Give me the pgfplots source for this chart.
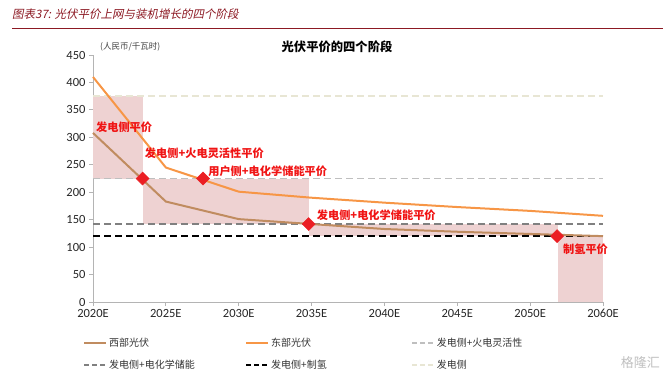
\documentclass[border=0pt]{standalone}
\usepackage{pgfplots}
\pgfplotsset{compat=1.18}
\usepackage{fontspec}
\setmainfont{Carlito}
\newfontfamily\cjk{Noto Sans CJK SC}
\newfontfamily\cjkit{Noto Sans CJK SC}[FakeSlant=0.2]
\definecolor{eastc}{RGB}{247,150,70}
\definecolor{westc}{RGB}{192,140,96}
\definecolor{shade}{RGB}{238,210,210}
\definecolor{lab}{RGB}{240,20,20}
\definecolor{dia}{RGB}{235,30,35}
\definecolor{g1}{RGB}{191,191,191}
\definecolor{g2}{RGB}{128,128,128}
\definecolor{g0}{RGB}{232,230,212}
\definecolor{hdr}{RGB}{140,25,35}
\definecolor{axc}{RGB}{180,180,180}
\begin{document}
\begin{tikzpicture}
\useasboundingbox (0pt,0pt) rectangle (663pt,-380pt);
\begin{axis}[
  at={(93pt,-302pt)}, anchor=south west,
  scale only axis, width=510pt, height=247pt,
  xmin=0, xmax=7, ymin=0, ymax=450,
  axis x line*=bottom, axis y line*=left,
  axis line style={draw=axc, line width=0.8pt, -},
  xtick={0,1,2,3,4,5,6,7},
  xticklabels={2020E,2025E,2030E,2035E,2040E,2045E,2050E,2060E},
  ytick={0,50,100,150,200,250,300,350,400,450},
  tick align=outside, major tick length=4pt,
  tick style={draw=axc, line width=0.8pt},
  tick label style={font=\fontsize{12.5}{14}\selectfont, text=black!85},
  /pgf/number format/assume math mode=true,
  clip=false,
  legend columns=3,
  legend cell align=left,
  legend style={at={(-0.0196,-0.1377)}, anchor=north west, draw=none, fill=none,
    font=\cjk\fontsize{10}{12}\selectfont, text=black!80, row sep=8pt, inner xsep=0pt, inner ysep=0pt},
  legend image code/.code={\draw[#1] (0pt,0pt) -- (22pt,0pt);},
]
% shaded stages
\addplot[fill=shade, draw=none, forget plot] coordinates {(0,225) (0.68,225) (0.68,375) (0,375)} -- cycle;
\addplot[fill=shade, draw=none, forget plot] coordinates {(0.68,142) (2.96,142) (2.96,225) (0.68,225)} -- cycle;
\addplot[fill=shade, draw=none, forget plot] coordinates {(2.96,120) (6.38,120) (6.38,142) (2.96,142)} -- cycle;
\addplot[fill=shade, draw=none, forget plot] coordinates {(6.38,0) (7,0) (7,120) (6.38,120)} -- cycle;
% horizontal thresholds
\addplot[g0, line width=1.6pt, dash pattern=on 7pt off 4pt, forget plot] coordinates {(0,375) (7,375)};
\addplot[g1, line width=1.6pt, dash pattern=on 7pt off 4pt, forget plot] coordinates {(0,225) (7,225)};
\addplot[g2, line width=1.6pt, dash pattern=on 7pt off 4pt, forget plot] coordinates {(0,142) (7,142)};
\addplot[black, line width=1.6pt, dash pattern=on 7pt off 4pt, forget plot] coordinates {(0,120) (7,120)};
% series
\addplot[westc, line width=2pt, forget plot] coordinates {(0,308) (1,183) (2,151) (3,142) (4,133) (5,128) (6,124) (7,120)};
\addplot[eastc, line width=2pt, forget plot] coordinates {(0,410) (1,245) (2,201) (3,190) (4,181) (5,173) (6,166) (7,157)};
% parity points
\addplot[only marks, mark=square*, mark size=4.6pt, mark options={rotate=45, fill=dia, draw=dia}, forget plot]
  coordinates {(0.68,225) (1.51,225) (2.96,142) (6.37,120)};
% labels
\node[anchor=west, text=lab, font=\cjk\bfseries\fontsize{11.2}{13}\selectfont, inner sep=0pt] at (axis cs:0.04,319) {发电侧平价};
\node[anchor=west, text=lab, font=\cjk\bfseries\fontsize{11.2}{13}\selectfont, inner sep=0pt] at (axis cs:0.71,271) {发电侧+火电灵活性平价};
\node[anchor=west, text=lab, font=\cjk\bfseries\fontsize{11.2}{13}\selectfont, inner sep=0pt] at (axis cs:1.58,238.6) {用户侧+电化学储能平价};
\node[anchor=west, text=lab, font=\cjk\bfseries\fontsize{11.2}{13}\selectfont, inner sep=0pt] at (axis cs:3.07,158.5) {发电侧+电化学储能平价};
\node[anchor=west, text=lab, font=\cjk\bfseries\fontsize{11.2}{13}\selectfont, inner sep=0pt] at (axis cs:6.45,96.5) {制氢平价};
% legend
\addlegendimage{westc, line width=2pt}
\addlegendentry{\makebox[134pt][l]{西部光伏}}
\addlegendimage{eastc, line width=2pt}
\addlegendentry{\makebox[138pt][l]{东部光伏}}
\addlegendimage{g1, line width=1.6pt, dash pattern=on 5pt off 3pt}
\addlegendentry{发电侧+火电灵活性}
\addlegendimage{g2, line width=1.6pt, dash pattern=on 5pt off 3pt}
\addlegendentry{\makebox[134pt][l]{发电侧+电化学储能}}
\addlegendimage{black, line width=1.6pt, dash pattern=on 5pt off 3pt}
\addlegendentry{\makebox[138pt][l]{发电侧+制氢}}
\addlegendimage{g0, line width=1.6pt, dash pattern=on 5pt off 3pt}
\addlegendentry{发电侧}
\end{axis}
% header
\node[anchor=west, inner sep=0pt, text=hdr, font=\cjkit\fontsize{11.5}{13}\selectfont] at (12pt,-14pt) {图表37: 光伏平价上网与装机增长的四个阶段};
\draw[hdr, line width=1.2pt] (12pt,-28.5pt) -- (663pt,-28.5pt);
% title and unit
\node[inner sep=0pt, font=\cjk\bfseries\fontsize{12.3}{14}\selectfont] at (337pt,-47pt) {光伏平价的四个阶段};
\node[anchor=west, inner sep=0pt, text=black!75, font=\cjk\fontsize{8.5}{10}\selectfont] at (100pt,-47pt) {(人民币/千瓦时)};
% watermark
\node[anchor=east, inner sep=0pt, text=black!25, font=\cjk\fontsize{13}{15}\selectfont] at (660pt,-363pt) {格隆汇};
\end{tikzpicture}
\end{document}
